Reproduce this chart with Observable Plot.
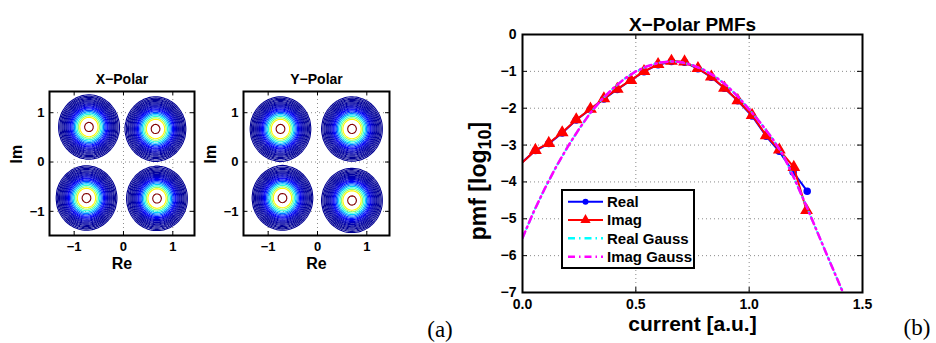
<!DOCTYPE html>
<html><head><meta charset="utf-8">
<script src="https://cdn.jsdelivr.net/npm/d3@7"></script>
<script src="https://cdn.jsdelivr.net/npm/@observablehq/plot@0.6"></script>
<style>
html,body{margin:0;padding:0;background:#fff;}
#wrap{position:relative;width:936px;height:343px;overflow:hidden;}
#wrap svg{position:absolute;left:0;top:0;}
</style></head><body><div id="wrap"></div>
<script>
// ---------- data: constellation panels (a) ----------
const constTicks = [-1, 0, 1];
const xPolarCenterRe = [-0.70, 0.65, -0.75, 0.68];
const xPolarCenterIm = [0.71, 0.67, -0.73, -0.74];
const yPolarCenterRe = [-0.75, 0.70, -0.71, 0.70];
const yPolarCenterIm = [0.67, 0.67, -0.73, -0.78];
const clusterSpreadRe = [0.17, 0.17, 0.17, 0.17];
const clusterSpreadIm = [0.18, 0.18, 0.18, 0.18];
const contourLevels = [0.0015, 0.0025, 0.004, 0.006, 0.009, 0.013, 0.018, 0.025, 0.034, 0.045, 0.06, 0.08, 0.1, 0.13, 0.17, 0.22, 0.28, 0.36, 0.45, 0.55, 0.87];

// ---------- data: PMF panel (b) ----------
const currentTicks = [0, 0.5, 1, 1.5];
const pmfTicks = [0, -1, -2, -3, -4, -5, -6, -7];
const currentImag = [-0.002, 0.057, 0.116, 0.175, 0.237, 0.300, 0.359, 0.418, 0.478, 0.536, 0.598, 0.657, 0.715, 0.774, 0.833, 0.891, 0.950, 1.013, 1.075, 1.133, 1.197, 1.253];
const pmfImag    = [-3.48, -3.14, -2.95, -2.66, -2.31, -2.02, -1.74, -1.48, -1.24, -1.00, -0.81, -0.72, -0.74, -0.92, -1.15, -1.45, -1.79, -2.19, -2.74, -3.13, -3.60, -4.77];
const currentReal = [-0.002, 0.057, 0.116, 0.175, 0.237, 0.300, 0.359, 0.418, 0.478, 0.536, 0.598, 0.657, 0.715, 0.774, 0.833, 0.891, 0.950, 1.013, 1.075, 1.133, 1.194, 1.256];
const pmfReal    = [-3.47, -3.15, -2.96, -2.67, -2.32, -2.03, -1.75, -1.49, -1.24, -1.01, -0.82, -0.73, -0.75, -0.93, -1.16, -1.46, -1.80, -2.21, -2.76, -3.17, -3.73, -4.25];
const currentGauss = [0, 0.05, 0.10, 0.15, 0.20, 0.25, 0.30, 0.35, 0.40, 0.45, 0.50, 0.55, 0.60, 0.65, 0.70, 0.75, 0.80, 0.85, 0.90, 0.95, 1.00, 1.05, 1.10, 1.15, 1.20, 1.25, 1.30, 1.35, 1.40, 1.45];
const pmfRealGauss = [-5.52, -4.80, -4.16, -3.57, -3.04, -2.56, -2.12, -1.76, -1.46, -1.20, -1.00, -0.86, -0.77, -0.73, -0.75, -0.83, -0.96, -1.14, -1.38, -1.68, -2.03, -2.40, -2.80, -3.27, -3.92, -4.62, -5.35, -6.08, -6.80, -7.53];
const pmfImagGauss = [-5.52, -4.80, -4.16, -3.57, -3.04, -2.56, -2.12, -1.76, -1.46, -1.20, -1.00, -0.86, -0.77, -0.73, -0.75, -0.83, -0.96, -1.14, -1.38, -1.68, -2.03, -2.40, -2.80, -3.27, -3.92, -4.62, -5.35, -6.08, -6.80, -7.53];
const legendLabels = ["Real", "Imag", "Real Gauss", "Imag Gauss"];

const jetStops = ["#000090", "#0000ff", "#0080ff", "#00ffff", "#80ff80", "#ffff00", "#ff8000", "#ff0000", "#800000"];
const jet = d3.piecewise(d3.interpolateRgb, jetStops);
const W = 936, H = 343;
const FONT = "'Liberation Sans', Arial, Helvetica, sans-serif";
const wrap = document.getElementById("wrap");

function constellation(title, centerRe, centerIm, frameLeft, frameRight, xDomain) {
  const frameTop = 91, frameBottom = 235;
  const yDomain = [-1.49, 1.43];
  const fw = frameRight - frameLeft, fh = frameBottom - frameTop;
  const density = (re, im) => d3.sum(centerRe, (c, i) =>
    Math.exp(-(((re - c) / clusterSpreadRe[i]) ** 2 + ((im - centerIm[i]) / clusterSpreadIm[i]) ** 2) / 2));
  return Plot.plot({
    width: W, height: H,
    marginLeft: frameLeft, marginRight: W - frameRight, marginTop: frameTop, marginBottom: H - frameBottom,
    x: {domain: xDomain},
    y: {domain: yDomain},
    color: {type: "linear", domain: [0, d3.max(contourLevels)], interpolate: jet},
    style: {background: "transparent", fontFamily: FONT, fontWeight: "bold", fontSize: "13px", color: "black"},
    marks: [
      Plot.ruleX(constTicks, {stroke: "#8a8a8a", strokeDasharray: "1,3"}),
      Plot.ruleY(constTicks, {stroke: "#8a8a8a", strokeDasharray: "1,3"}),
      Plot.contour({x1: xDomain[0], x2: xDomain[1], y1: yDomain[0], y2: yDomain[1],
        stroke: density, fill: "none", thresholds: contourLevels, strokeWidth: 1.1}),
      Plot.tickX(constTicks, {stroke: "black", insetTop: fh - 4}),
      Plot.tickX(constTicks, {stroke: "black", insetBottom: fh - 4}),
      Plot.tickY(constTicks, {stroke: "black", insetRight: fw - 4}),
      Plot.tickY(constTicks, {stroke: "black", insetLeft: fw - 4}),
      Plot.frame({stroke: "black", strokeWidth: 2}),
      Plot.axisX(constTicks, {tickSize: 0, tickPadding: 6, label: null, fontSize: 13}),
      Plot.axisY(constTicks, {tickSize: 0, tickPadding: 5, label: null, fontSize: 13}),
      Plot.text([title], {frameAnchor: "top", dy: -17, fontSize: 14, fontWeight: "bold"}),
      Plot.text(["Re"], {frameAnchor: "bottom", dy: 33, fontSize: 16, fontWeight: "bold"}),
      Plot.text(["Im"], {frameAnchor: "left", dx: -33, rotate: -90, fontSize: 16, fontWeight: "bold"})
    ]
  });
}

wrap.appendChild(constellation("X\u2212Polar", xPolarCenterRe, xPolarCenterIm, 49, 194, [-1.5, 1.44]));
wrap.appendChild(constellation("Y\u2212Polar", yPolarCenterRe, yPolarCenterIm, 243, 389, [-1.5, 1.46]));

// ---------- panel (b) ----------
const bLeft = 522, bRight = 862, bTop = 34, bBottom = 292;
const bw = bRight - bLeft, bh = bBottom - bTop;
const idxImag = d3.range(currentImag.length);
const idxReal = d3.range(currentReal.length);
const idxGauss = d3.range(currentGauss.length);
const dash = "7,4,1.5,4";

const pmfPlot = Plot.plot({
  width: W, height: H,
  marginLeft: bLeft, marginRight: W - bRight, marginTop: bTop, marginBottom: H - bBottom,
  x: {domain: [0, 1.5]},
  y: {domain: [-7, 0]},
  style: {background: "transparent", fontFamily: FONT, fontWeight: "bold", fontSize: "14px", color: "black"},
  marks: [
    Plot.ruleX(currentTicks, {stroke: "#8a8a8a", strokeDasharray: "1,3"}),
    Plot.ruleY(pmfTicks, {stroke: "#8a8a8a", strokeDasharray: "1,3"}),
    Plot.line(idxReal, {x: i => currentReal[i], y: i => pmfReal[i], stroke: "#0000ff", strokeWidth: 2, clip: true}),
    Plot.dot(idxReal, {x: i => currentReal[i], y: i => pmfReal[i], filter: i => currentReal[i] >= 0, fill: "#0000ff", stroke: "#0000ff", r: 3}),
    Plot.line(idxImag, {x: i => currentImag[i], y: i => pmfImag[i], stroke: "#ff0000", strokeWidth: 2, clip: true}),
    Plot.dot(idxImag, {x: i => currentImag[i], y: i => pmfImag[i], filter: i => currentImag[i] >= 0, symbol: "triangle", fill: "#ff0000", stroke: "#ff0000", r: 3.8}),
    Plot.line(idxGauss, {x: i => currentGauss[i], y: i => pmfRealGauss[i], stroke: "#00ffff", strokeWidth: 2.2, strokeDasharray: dash, strokeDashoffset: 1, clip: true}),
    Plot.line(idxGauss, {x: i => currentGauss[i], y: i => pmfImagGauss[i], stroke: "#ff00ff", strokeWidth: 2.5, strokeDasharray: dash, clip: true}),
    Plot.tickX(currentTicks, {stroke: "black", insetTop: bh - 5}),
    Plot.tickX(currentTicks, {stroke: "black", insetBottom: bh - 5}),
    Plot.tickY(pmfTicks, {stroke: "black", insetRight: bw - 5}),
    Plot.tickY(pmfTicks, {stroke: "black", insetLeft: bw - 5}),
    Plot.frame({stroke: "black", strokeWidth: 2}),
    Plot.axisX(currentTicks, {tickSize: 0, tickPadding: 7, label: null, fontSize: 14}),
    Plot.axisY(pmfTicks, {tickSize: 0, tickPadding: 6, label: null, fontSize: 14}),
    Plot.text(["X\u2212Polar PMFs"], {frameAnchor: "top", dy: -17, fontSize: 19, fontWeight: "bold"}),
    Plot.text(["current [a.u.]"], {frameAnchor: "bottom", dy: 38, fontSize: 21, fontWeight: "bold"})
  ]
});
wrap.appendChild(pmfPlot);

// y label with subscript, legend, panel letters
const svg = d3.select(pmfPlot);
const yl = svg.append("text")
  .attr("transform", "translate(486,181) rotate(-90)")
  .attr("text-anchor", "middle")
  .attr("font-family", FONT).attr("font-weight", "bold").attr("font-size", 23)
  .attr("fill", "black");
yl.append("tspan").text("pmf [log");
yl.append("tspan").attr("dy", 5).attr("font-size", 18).text("10");
yl.append("tspan").attr("dy", -5).text("]");

const lg = svg.append("g").attr("text-anchor", "start");
lg.append("rect").attr("x", 562).attr("y", 190).attr("width", 132).attr("height", 78)
  .attr("fill", "white").attr("stroke", "black").attr("stroke-width", 2);
const rowY = [201.7, 220, 238.3, 256.7];
const legendStroke = ["#0000ff", "#ff0000", "#00ffff", "#ff00ff"];
legendLabels.forEach((lab, i) => {
  const y = rowY[i];
  lg.append("line").attr("x1", 568).attr("x2", 603).attr("y1", y).attr("y2", y)
    .attr("stroke", legendStroke[i]).attr("stroke-width", i < 2 ? 2 : 2.5)
    .attr("stroke-dasharray", i < 2 ? null : dash);
  if (i === 0) lg.append("circle").attr("cx", 585.5).attr("cy", y).attr("r", 3).attr("fill", "#0000ff");
  if (i === 1) lg.append("path").attr("transform", `translate(585.5,${y})`)
    .attr("d", d3.symbol(d3.symbolTriangle, Math.PI * 3.8 * 3.8)()).attr("fill", "#ff0000");
  lg.append("text").attr("x", 607).attr("y", y).attr("dy", "0.36em").attr("text-anchor", "start")
    .attr("font-family", FONT).attr("font-weight", "bold").attr("font-size", 15)
    .attr("fill", "black").text(lab);
});

[["(a)", 440, 329], ["(b)", 917, 327]].forEach(([t, x, y]) => {
  svg.append("text").attr("x", x).attr("y", y).attr("dy", "0.35em").attr("text-anchor", "middle")
    .attr("font-family", "'Liberation Serif', 'Times New Roman', serif").attr("font-size", 23)
    .attr("font-weight", "normal").attr("fill", "black").text(t);
});
</script>
</body></html>
